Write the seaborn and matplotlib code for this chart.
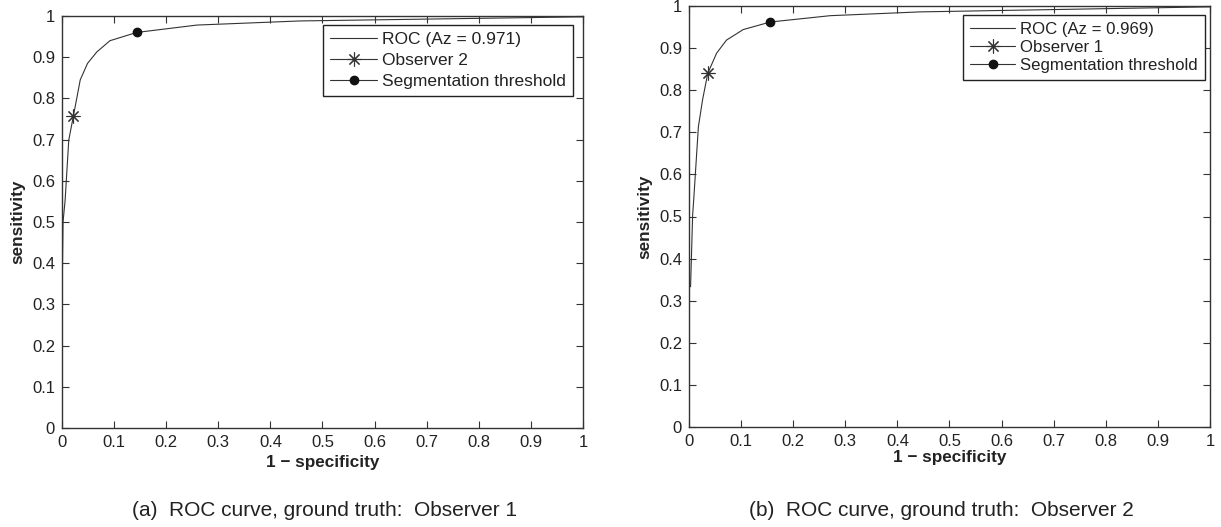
import matplotlib
matplotlib.use("Agg")
import matplotlib.pyplot as plt
import seaborn as sns
import numpy as np

sns.set_theme(style="white")
plt.rcParams['font.family'] = ['Liberation Sans', 'DejaVu Sans']

# ---- data ----
fpr_a = [0.0, 0.002, 0.006, 0.013, 0.022, 0.035, 0.049, 0.067, 0.092, 0.143, 0.259, 0.457, 1.0]
tpr_a = [0.30, 0.50, 0.553, 0.699, 0.758, 0.845, 0.885, 0.913, 0.940, 0.960, 0.978, 0.988, 0.998]
obs_a = (0.022, 0.758)
thr_a = (0.143, 0.960)
roc_label_a = "ROC (Az = 0.971)"
obs_label_a = "Observer 2"
caption_a = "(a)  ROC curve, ground truth:  Observer 1"

fpr_b = [0.003, 0.007, 0.009, 0.018, 0.026, 0.036, 0.053, 0.072, 0.104, 0.156, 0.271, 0.443, 1.0]
tpr_b = [0.333, 0.504, 0.539, 0.713, 0.777, 0.840, 0.888, 0.919, 0.944, 0.962, 0.977, 0.986, 0.998]
obs_b = (0.036, 0.840)
thr_b = (0.156, 0.962)
roc_label_b = "ROC (Az = 0.969)"
obs_label_b = "Observer 1"
caption_b = "(b)  ROC curve, ground truth:  Observer 2"

thr_label = "Segmentation threshold"
ticks = [0, 0.1, 0.2, 0.3, 0.4, 0.5, 0.6, 0.7, 0.8, 0.9, 1]
tick_labels = ["0", "0.1", "0.2", "0.3", "0.4", "0.5", "0.6", "0.7", "0.8", "0.9", "1"]

fig = plt.figure(figsize=(12.21, 5.27), dpi=100)
W, H = 1221, 527
ax_a = fig.add_axes([62 / W, 1 - 428 / H, (583 - 62) / W, (428 - 16) / H])
ax_b = fig.add_axes([689 / W, 1 - 427 / H, (1210 - 689) / W, (427 - 6) / H])

lc = "#333333"
tc = "#222222"
tick_fs = 12
lab_fs = 12.3
cap_fs = 15

def draw(ax, fpr, tpr, obs, thr, roc_label, obs_label, leg_anchor, xlabelpad,
         lspace, leg_fs):
    sns.lineplot(x=fpr, y=tpr, ax=ax, color=lc, lw=0.8, label=roc_label,
                 sort=False, estimator=None)
    ax.plot([obs[0]], [obs[1]], linestyle='-', color=lc, lw=0.8,
            marker=(8, 2, 0), markersize=10, markeredgewidth=0.8,
            markeredgecolor=lc, label=obs_label)
    ax.plot([thr[0]], [thr[1]], linestyle='-', color=lc, lw=0.8,
            marker='o', markersize=6, markerfacecolor='#111111',
            markeredgecolor='#111111', label=thr_label)
    ax.set_xlim(0, 1)
    ax.set_ylim(0, 1)
    ax.set_xticks(ticks)
    ax.set_xticklabels(tick_labels)
    ax.set_yticks(ticks)
    ax.set_yticklabels(tick_labels)
    ax.tick_params(direction='in', length=5, width=0.8, color=lc,
                   top=True, right=True, bottom=True, left=True,
                   labelsize=tick_fs, labelcolor=tc, pad=5)
    for s in ax.spines.values():
        s.set_visible(True)
        s.set_color(lc)
        s.set_linewidth(1.0)
    ax.set_xlabel("1 \u2212 specificity", fontsize=lab_fs, fontweight='bold',
                  color=tc, labelpad=xlabelpad)
    ax.set_ylabel("sensitivity", fontsize=lab_fs, fontweight='bold',
                  color=tc, labelpad=5)
    leg = ax.legend(loc='upper right', bbox_to_anchor=leg_anchor,
                    fontsize=leg_fs, frameon=True, fancybox=False,
                    edgecolor='#222222', framealpha=1, numpoints=1,
                    handlelength=2.7, handletextpad=0.3,
                    labelspacing=lspace, borderpad=0.4, borderaxespad=0)
    leg.get_frame().set_linewidth(1.0)
    for t in leg.get_texts():
        t.set_color(tc)

draw(ax_a, fpr_a, tpr_a, obs_a, thr_a, roc_label_a, obs_label_a, (0.981, 0.978),
     3.5, 0.33, 12.5)
draw(ax_b, fpr_b, tpr_b, obs_b, thr_b, roc_label_b, obs_label_b, (0.990, 0.979),
     0.5, 0.2, 12.1)

fig.text(325 / W, 1 - 516 / H, caption_a, ha='center', va='baseline',
         fontsize=cap_fs, color=tc)
fig.text(941 / W, 1 - 516 / H, caption_b, ha='center', va='baseline',
         fontsize=cap_fs, color=tc)

fig.savefig("out.png", dpi=100)
